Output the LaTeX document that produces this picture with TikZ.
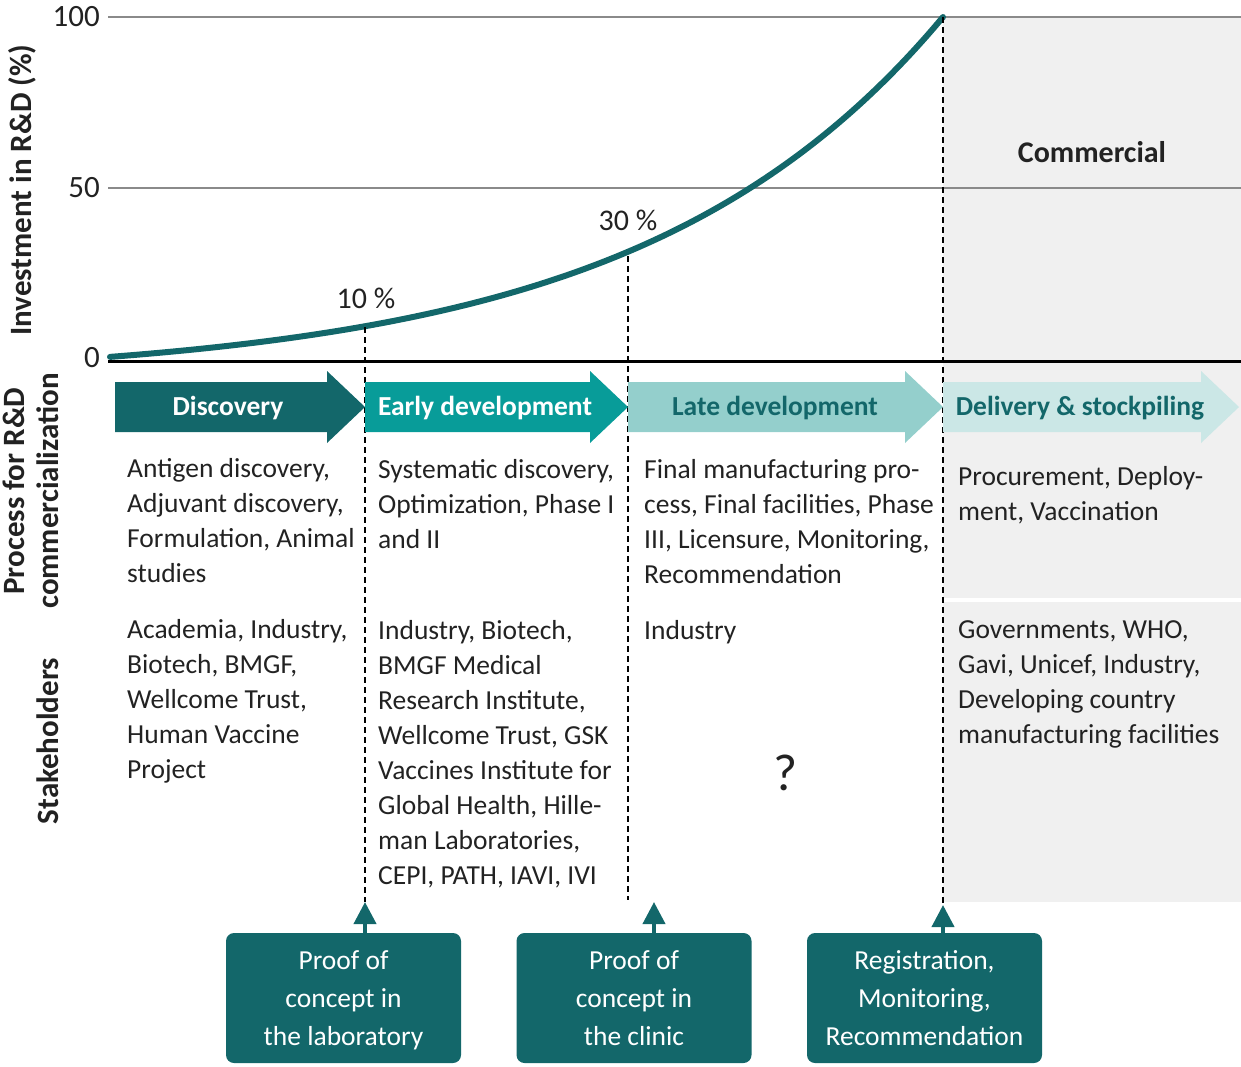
\documentclass[tikz,border=0pt]{standalone}
\usepackage{fontspec}
\setmainfont{Carlito}
\usetikzlibrary{arrows.meta}
\definecolor{dteal}{HTML}{13676A}
\definecolor{mteal}{HTML}{089C99}
\definecolor{lteal}{HTML}{94CFCC}
\definecolor{pteal}{HTML}{CBE7E6}
\definecolor{cgray}{HTML}{F0F0F0}
\definecolor{ggrid}{HTML}{8A8A8A}
\definecolor{txt}{HTML}{222222}
\begin{document}
\begin{tikzpicture}[x=1pt,y=-1pt,
  body/.style={anchor=north west, align=left, inner sep=0pt, font=\fontsize{27.5}{35}\selectfont, text=txt},
  phase/.style={inner sep=0pt, font=\fontsize{27.5}{30}\selectfont\bfseries},
  mile/.style={fill=dteal, rounded corners=8pt, text=white, align=center, inner sep=0pt, text depth=0pt,
    font=\fontsize{27.5}{38}\selectfont, minimum width=235pt, minimum height=130pt},
  vlab/.style={rotate=90, align=center, inner sep=0pt, font=\fontsize{31}{34}\selectfont\bfseries, text=txt},
  tick/.style={anchor=east, inner sep=0pt, font=\fontsize{31}{32}\selectfont, text=txt},
  pct/.style={inner sep=0pt, font=\fontsize{30}{32}\selectfont, text=txt},
  guide/.style={dash pattern=on 6pt off 4pt, line width=1.3pt, black},
  grid line/.style={ggrid, line width=2.5pt},
  milearrow/.style={-{Triangle[width=22pt,length=22pt]}, line width=4pt, dteal}
]
\useasboundingbox (0,0) rectangle (1241,1066);

% commercial region
\fill[cgray] (943,17) rectangle (1241,902);
\draw[white, line width=4pt] (943,600) -- (1241,600);

% grid and axis
\draw[grid line] (108,17) -- (1241,17);
\draw[grid line] (108,188) -- (1241,188);
\node[tick] (t100) at (100,17) {100};
\node[tick] (t50) at (100,188) {50};
\node[tick] (t0) at (100,358) {0};
\node[inner sep=0pt, font=\fontsize{30}{32}\selectfont\bfseries, text=txt] (comm) at (1092,152) {Commercial};

% curve
\draw[dteal, line width=6pt, line cap=round]
  plot[domain=110:943, samples=90, smooth]
  (\x, {361-344*(0.012+0.988*(exp(2.75*(\x-110)/833)-1)/(exp(2.75)-1))});
\draw[black, line width=3pt] (108,361) -- (1241,361);

\coordinate (p10) at (365,327);
\coordinate (p30) at (628,256);
\coordinate (p100) at (943,17);
\coordinate (b10) at (365,902);
\coordinate (b30) at (628,900);
\coordinate (b100) at (943,905);
\draw[guide] (p10) -- (b10);
\draw[guide] (p30) -- (b30);
\draw[guide] (p100) -- (b100);
\node[pct] (l10) at (366,298) {10 \%};
\node[pct] (l30) at (628,220) {30 \%};

% phase arrows
\fill[dteal] (115,382) -- (327,382) -- (327,371) -- (365,407) -- (327,443) -- (327,432) -- (115,432) -- cycle;
\fill[mteal] (365,382) -- (590,382) -- (590,371) -- (628,407) -- (590,443) -- (590,432) -- (365,432) -- cycle;
\fill[lteal] (628,382) -- (905,382) -- (905,371) -- (943,407) -- (905,443) -- (905,432) -- (628,432) -- cycle;
\fill[pteal] (943,382) -- (1201,382) -- (1201,371) -- (1239,407) -- (1201,443) -- (1201,432) -- (943,432) -- cycle;
\node[phase, text=white] (ph1) at (228,408) {Discovery};
\node[phase, text=white] (ph2) at (485,408) {Early development};
\node[phase, text=dteal] (ph3) at (775,408) {Late development};
\node[phase, text=dteal] (ph4) at (1080,408) {Delivery \& stockpiling};

% process texts
\node[body] (d1) at (127,458) {Antigen discovery,\\Adjuvant discovery,\\Formulation, Animal\\studies};
\node[body] (e1) at (378,459) {Systematic discovery,\\Optimization, Phase I\\and II};
\node[body] (l1) at (644,459) {Final manufacturing pro-\\cess, Final facilities, Phase\\III, Licensure, Monitoring,\\Recommendation};
\node[body] (v1) at (958,466) {Procurement, Deploy-\\ment, Vaccination};

% stakeholder texts
\node[body] (d2) at (127,619) {Academia, Industry,\\Biotech, BMGF,\\Wellcome Trust,\\Human Vaccine\\Project};
\node[body] (e2) at (378,620) {Industry, Biotech,\\BMGF Medical\\Research Institute,\\Wellcome Trust, GSK\\Vaccines Institute for\\Global Health, Hille-\\man Laboratories,\\CEPI, PATH, IAVI, IVI};
\node[body] (l2) at (644,620) {Industry};
\node[inner sep=0pt, font=\fontsize{52}{52}\selectfont, text=txt] (q) at (786,773) {?};
\node[body] (v2) at (958,620) {Governments, WHO,\\Gavi, Unicef, Industry,\\Developing country\\manufacturing facilities};

% side labels
\node[vlab] (yl) at (22,190) {Investment in R\&D (\%)};
\node[vlab] (pl) at (31,491) {Process for R\&D\\commercialization};
\node[vlab] (sl) at (48,741) {Stakeholders};

% milestones
\node[mile] (m1) at (343.5,998) {Proof of\\concept in\\the laboratory};
\node[mile] (m2) at (634,998) {Proof of\\concept in\\the clinic};
\node[mile] (m3) at (924.5,998) {Registration,\\Monitoring,\\Recommendation};
\draw[milearrow] (m1.north -| b10) -- (b10);
\draw[milearrow] (m2.north -| 654,0) -- (654,902);
\draw[milearrow] (m3.north -| b100) -- (b100);
\end{tikzpicture}
\end{document}
